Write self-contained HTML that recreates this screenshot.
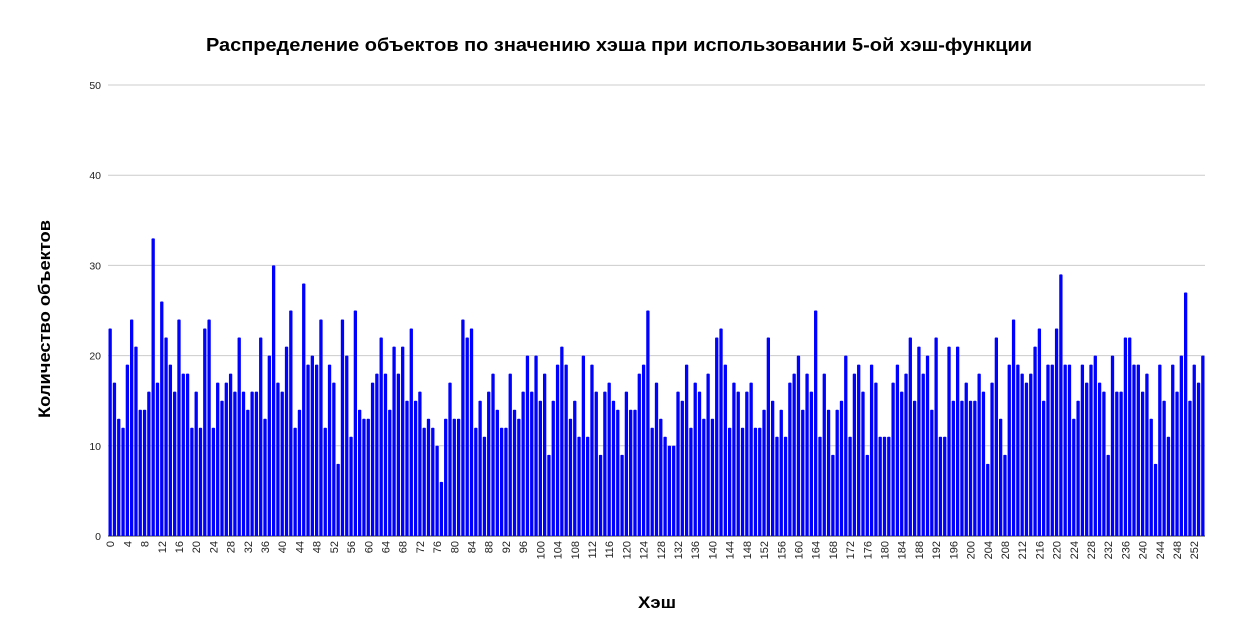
<!DOCTYPE html>
<html><head><meta charset="utf-8"><style>
body{margin:0;background:#fff;}
svg{display:block;font-family:"Liberation Sans",sans-serif;}
</style></head><body>
<svg id="chart" width="1238" height="644">
<rect width="1238" height="644" fill="#fff"/>
<text x="206" y="51" textLength="826" lengthAdjust="spacingAndGlyphs" font-size="18.5" font-weight="bold" fill="#000">Распределение объектов по значению хэша при использовании 5-ой хэш-функции</text>
<text transform="translate(50,418) rotate(-90)" textLength="198" lengthAdjust="spacingAndGlyphs" font-size="17" font-weight="bold" fill="#000">Количество объектов</text>
<text x="638" y="608" textLength="38" lengthAdjust="spacingAndGlyphs" font-size="17" font-weight="bold" fill="#000">Хэш</text>
<g id="grid"></g><g id="bars"></g><g id="xt"></g>
</svg>
<script>
const yTicks=[0,10,20,30,40,50];
const counts=[23,17,13,12,19,24,21,14,14,16,33,17,26,22,19,16,24,18,18,12,16,12,23,24,12,17,15,17,18,16,22,16,
14,16,16,22,13,20,30,17,16,21,25,12,14,28,19,20,19,24,12,19,17,8,24,20,11,25,14,13,13,17,18,
22,18,14,21,18,21,15,23,15,16,12,13,12,10,6,13,17,13,13,24,22,23,12,15,11,16,18,14,12,12,18,14,
13,16,20,16,20,15,18,9,15,19,21,19,13,15,11,20,11,19,16,9,16,17,15,14,9,16,14,14,18,19,25,
12,17,13,11,10,10,16,15,19,12,17,16,13,18,13,22,23,19,12,17,16,12,16,17,12,12,14,22,15,11,14,
11,17,18,20,14,18,16,25,11,18,14,9,14,15,20,11,18,19,16,9,19,17,11,11,11,17,19,16,18,22,15,21,
18,20,14,22,11,11,21,15,21,15,17,15,15,18,16,8,17,22,13,9,19,24,19,18,17,18,21,23,15,19,19,
23,29,19,19,13,15,19,17,19,20,17,16,9,20,16,16,22,22,19,19,16,18,13,8,19,15,11,19,16,20,27,15,19,17,20];
const X0=108,X1=1205,Y0=536,Y1=85,YMAX=50;
const band=(X1-X0)/counts.length;
function y(v){return Y0-(v/YMAX)*(Y0-Y1);}
function x(i){return X0+i*band;}
const NS="http://www.w3.org/2000/svg";
const grid=document.getElementById('grid');
yTicks.forEach(t=>{
  const l=document.createElementNS(NS,'line');
  l.setAttribute('x1',X0);l.setAttribute('x2',X1);l.setAttribute('y1',y(t));l.setAttribute('y2',y(t));
  l.setAttribute('stroke',t===0?'#333':'#ccc');l.setAttribute('stroke-width','1');
  
  
  grid.appendChild(l);
  const tx=document.createElementNS(NS,'text');
  tx.setAttribute('x',101);tx.setAttribute('y',y(t)+4);tx.setAttribute('text-anchor','end');
  tx.setAttribute('font-size','10.5');tx.setAttribute('fill','#222');tx.textContent=t;
  
  
  grid.appendChild(tx);
});
const bars=document.getElementById('bars');
counts.forEach((v,i)=>{
  const r=document.createElementNS(NS,'rect');
  r.setAttribute('x',x(i)+0.5);r.setAttribute('width',band-1);
  r.setAttribute('y',y(v));r.setAttribute('height',Y0-y(v));
  r.setAttribute('fill','#0000ff');r.setAttribute('rx','0.8');
  
  
  bars.appendChild(r);
});
const xt=document.getElementById('xt');
for(let i=0;i<counts.length;i+=4){
  const cx=x(i)+band/2+4;
  const t=document.createElementNS(NS,'text');
  t.setAttribute('transform','translate('+cx+',541) rotate(-90)');
  t.setAttribute('text-anchor','end');t.setAttribute('font-size','11');t.setAttribute('fill','#222');
  t.textContent=i;
  
  
  xt.appendChild(t);
}
</script>
</body></html>
